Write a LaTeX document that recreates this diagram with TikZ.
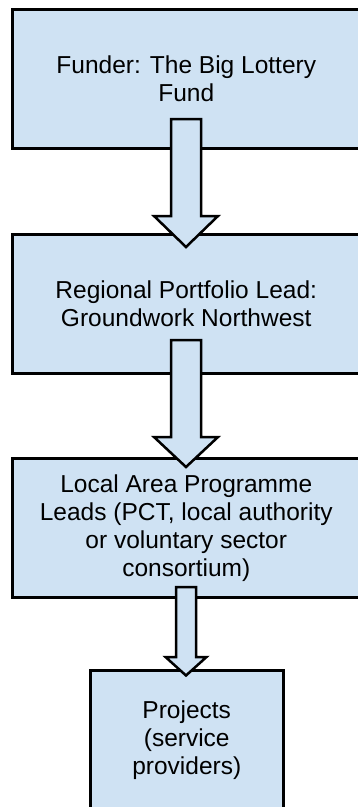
\documentclass[tikz,border=0pt]{standalone}
\usepackage{fontspec}
\setmainfont{Liberation Sans}
\usetikzlibrary{calc}
\definecolor{boxblue}{HTML}{CFE2F3}
\tikzset{
  box/.style={draw=black, line width=3pt, fill=boxblue, align=center, inner sep=0pt,
    font=\fontsize{24.5}{28}\selectfont},
  flow/.style={draw=black, line width=2.5pt, fill=boxblue, line join=miter},
}
\newcommand\blockarrow[5]{%
  \draw[flow] ($(#1)+(-#3,0)$) -- ($(#2)+(-#3,-#5)$) -- ($(#2)+(-#4,-#5)$) -- (#2)
    -- ($(#2)+(#4,-#5)$) -- ($(#2)+(#3,-#5)$) -- ($(#1)+(#3,0)$) -- cycle;}
\begin{document}
\begin{tikzpicture}[x=1pt,y=-1pt]
\useasboundingbox (0,0) rectangle (358,807);
\clip (0,0) rectangle (358,807);
\node[box, minimum width=347.5pt, minimum height=138.5pt] (fund) at (186.25,78.75)
  {Funder: The Big Lottery\\Fund};
\node[box, minimum width=347.5pt, minimum height=139pt] (region) at (186.25,304)
  {Regional Portfolio Lead:\\Groundwork Northwest};
\node[box, minimum width=347.5pt, minimum height=139.5pt] (local) at (186.25,527.75)
  {Local Area Programme\\Leads (PCT, local authority\\or voluntary sector\\consortium)};
\node[box, minimum width=192.5pt, minimum height=140pt] (proj) at (186.75,740.5)
  {Projects\\(service\\providers)};
\coordinate (a1s) at (186,119); \coordinate (a1e) at (186,247);
\coordinate (a2s) at (186,340); \coordinate (a2e) at (186,467);
\coordinate (a3s) at (186,587); \coordinate (a3e) at (186,675.5);
\blockarrow{a1s}{a1e}{15}{32}{31}
\blockarrow{a2s}{a2e}{15}{32}{30}
\blockarrow{a3s}{a3e}{10}{20.5}{18.5}
\end{tikzpicture}
\end{document}
